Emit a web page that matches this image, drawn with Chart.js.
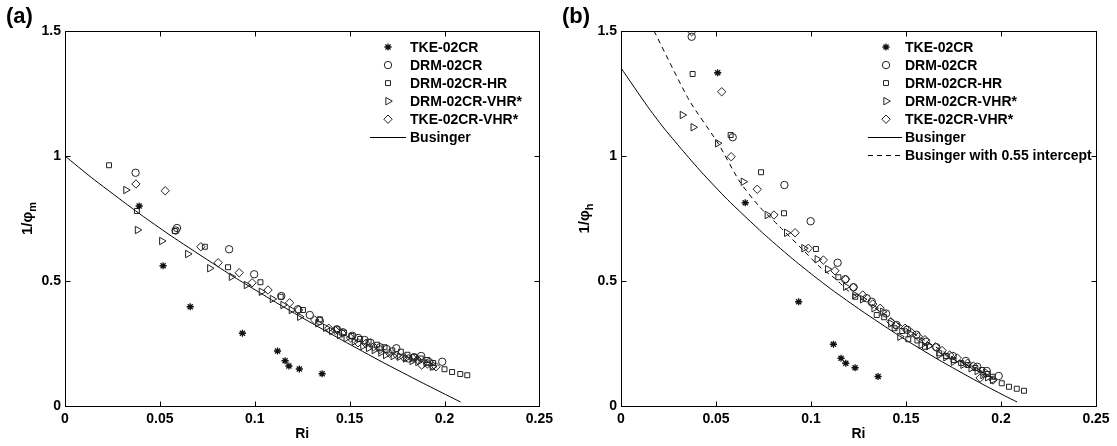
<!DOCTYPE html>
<html>
<head>
<meta charset="utf-8">
<script src="https://cdn.jsdelivr.net/npm/chart.js@4.4.1/dist/chart.umd.min.js"></script>
<style>
  html, body { margin: 0; padding: 0; background: #fff; }
  #wrap { position: relative; width: 1117px; height: 446px; overflow: hidden; }
  canvas { position: absolute; top: 0; }
  .tag { position: absolute; top: 3px; font: bold 22px "Liberation Sans", Arial, sans-serif; color: #000; }
</style>
</head>
<body>
<div id="wrap">
  <canvas id="chartA" width="558" height="446" style="left:0"></canvas>
  <canvas id="chartB" width="560" height="446" style="left:557px"></canvas>
  <div class="tag" style="left:6px">(a)</div>
  <div class="tag" style="left:562px">(b)</div>
</div>
<script>
  // axes
  const xTicks = [0, 0.05, 0.1, 0.15, 0.2, 0.25];
  const yTicks = [0, 0.5, 1, 1.5];
  const seriesNames = ['TKE-02CR', 'DRM-02CR', 'DRM-02CR-HR', 'DRM-02CR-VHR*', 'TKE-02CR-VHR*'];

  // ---- panel (a) : 1/phi_m ----
  const tkeRiA = [0.0391, 0.0517, 0.066, 0.0935, 0.112, 0.116, 0.118, 0.1235, 0.1355];
  const tkeValA = [0.80, 0.561, 0.397, 0.291, 0.22, 0.181, 0.16, 0.148, 0.129];

  const drmRiA = [0.0372, 0.0583, 0.059, 0.0865, 0.0997, 0.114, 0.1228, 0.129, 0.1343, 0.1433, 0.1465, 0.1514, 0.1545, 0.1579, 0.161, 0.166, 0.1695, 0.1746, 0.181, 0.184, 0.1877, 0.192, 0.1988];
  const drmValA = [0.933, 0.702, 0.712, 0.627, 0.527, 0.44, 0.387, 0.364, 0.34, 0.307, 0.295, 0.281, 0.272, 0.264, 0.253, 0.235, 0.228, 0.231, 0.19, 0.195, 0.2, 0.175, 0.177];

  const hrRiA = [0.0232, 0.0379, 0.0579, 0.0737, 0.0859, 0.103, 0.1137, 0.1254, 0.1343, 0.1433, 0.147, 0.151, 0.1555, 0.160, 0.1645, 0.1684, 0.1725, 0.177, 0.1805, 0.184, 0.1875, 0.191, 0.194, 0.2, 0.204, 0.2083, 0.212];
  const hrValA = [0.963, 0.78, 0.70, 0.637, 0.555, 0.495, 0.437, 0.384, 0.347, 0.307, 0.293, 0.28, 0.268, 0.257, 0.245, 0.235, 0.222, 0.217, 0.205, 0.197, 0.19, 0.184, 0.172, 0.147, 0.136, 0.128, 0.123];

  const vhrRiA = [0.0321, 0.0382, 0.051, 0.0647, 0.0763, 0.0877, 0.0956, 0.1035, 0.1093, 0.1149, 0.1193, 0.1237, 0.1333, 0.1374, 0.1405, 0.1447, 0.1482, 0.1525, 0.157, 0.16, 0.163, 0.1665, 0.169, 0.173, 0.1763, 0.1795, 0.183, 0.186, 0.1904, 0.1936];
  const vhrValA = [0.864, 0.704, 0.66, 0.608, 0.551, 0.517, 0.484, 0.457, 0.428, 0.404, 0.384, 0.357, 0.331, 0.313, 0.30, 0.284, 0.271, 0.258, 0.24, 0.232, 0.224, 0.214, 0.204, 0.2, 0.197, 0.19, 0.18, 0.176, 0.171, 0.157];

  const tkeVhrRiA = [0.0374, 0.0528, 0.0716, 0.0807, 0.0918, 0.0986, 0.107, 0.1184, 0.1231, 0.1316, 0.139, 0.1425, 0.146, 0.1505, 0.1544, 0.1585, 0.1626, 0.166, 0.171, 0.175, 0.1785, 0.1833, 0.1858, 0.188, 0.191, 0.1939, 0.1955];
  const tkeVhrValA = [0.888, 0.861, 0.637, 0.573, 0.533, 0.493, 0.464, 0.413, 0.384, 0.344, 0.311, 0.302, 0.291, 0.272, 0.253, 0.25, 0.237, 0.226, 0.211, 0.203, 0.195, 0.191, 0.185, 0.164, 0.168, 0.16, 0.157];

  const busRiA = [0, 0.0139, 0.032, 0.0424, 0.056, 0.0746, 0.0893, 0.1012, 0.111, 0.1264, 0.1464, 0.1674, 0.1875, 0.2019, 0.2085];
  const busValA = [1, 0.914, 0.81, 0.752, 0.68, 0.587, 0.515, 0.46, 0.415, 0.347, 0.262, 0.175, 0.096, 0.041, 0.016];

  // ---- panel (b) : 1/phi_h ----
  const tkeRiB = [0.0509, 0.0654, 0.0935, 0.1118, 0.1158, 0.1183, 0.1232, 0.1353];
  const tkeValB = [1.333, 0.813, 0.417, 0.247, 0.191, 0.171, 0.153, 0.118];

  const drmRiB = [0.0372, 0.0588, 0.086, 0.0998, 0.114, 0.118, 0.1224, 0.1293, 0.132, 0.1395, 0.145, 0.1506, 0.1555, 0.1605, 0.166, 0.1746, 0.1815, 0.1875, 0.1925, 0.1988];
  const drmValB = [1.477, 1.075, 0.884, 0.739, 0.573, 0.507, 0.475, 0.431, 0.417, 0.37, 0.324, 0.305, 0.285, 0.257, 0.235, 0.2, 0.18, 0.157, 0.14, 0.12];

  const hrRiB = [0.0377, 0.0577, 0.0737, 0.0858, 0.1026, 0.1144, 0.1233, 0.1346, 0.1385, 0.144, 0.148, 0.1512, 0.156, 0.16, 0.1675, 0.171, 0.175, 0.179, 0.1825, 0.1865, 0.19, 0.193, 0.1956, 0.2004, 0.2042, 0.2083, 0.2121];
  const hrValB = [1.328, 1.084, 0.935, 0.771, 0.628, 0.515, 0.437, 0.364, 0.355, 0.311, 0.30, 0.267, 0.262, 0.237, 0.211, 0.2, 0.184, 0.172, 0.164, 0.152, 0.144, 0.128, 0.117, 0.091, 0.077, 0.069, 0.061];

  const vhrRiB = [0.0323, 0.038, 0.0509, 0.0644, 0.077, 0.0872, 0.0963, 0.1033, 0.1088, 0.1183, 0.1232, 0.1272, 0.1332, 0.1378, 0.142, 0.1468, 0.152, 0.158, 0.162, 0.1675, 0.171, 0.175, 0.18, 0.1843, 0.1875, 0.1905, 0.193, 0.1956];
  const vhrValB = [1.164, 1.115, 1.051, 0.897, 0.764, 0.693, 0.631, 0.587, 0.547, 0.477, 0.444, 0.427, 0.391, 0.377, 0.33, 0.277, 0.29, 0.244, 0.24, 0.204, 0.195, 0.177, 0.165, 0.151, 0.14, 0.124, 0.115, 0.104];

  const tkeVhrRiB = [0.0372, 0.053, 0.058, 0.0717, 0.0805, 0.0916, 0.0986, 0.1065, 0.1126, 0.1183, 0.1223, 0.1272, 0.1325, 0.1364, 0.142, 0.1445, 0.1495, 0.153, 0.1565, 0.16, 0.1655, 0.169, 0.173, 0.177, 0.1824, 0.1855, 0.189, 0.192, 0.1958];
  const tkeVhrValB = [1.497, 1.257, 0.997, 0.867, 0.764, 0.693, 0.631, 0.584, 0.541, 0.507, 0.475, 0.444, 0.408, 0.391, 0.337, 0.322, 0.311, 0.293, 0.277, 0.265, 0.237, 0.222, 0.204, 0.192, 0.171, 0.16, 0.112, 0.13, 0.104];

  const busRiB = [0, 0.0139, 0.0221, 0.032, 0.0424, 0.056, 0.0746, 0.0893, 0.1012, 0.111, 0.1264, 0.1464, 0.1674, 0.1875, 0.2019, 0.2085];
  const busValB = [1.352, 1.199, 1.116, 1.026, 0.935, 0.826, 0.692, 0.595, 0.522, 0.465, 0.382, 0.281, 0.184, 0.0986, 0.041, 0.016];

  const bus55Ri = [0.0174, 0.0358, 0.051, 0.0626, 0.073, 0.0837, 0.0958, 0.1047, 0.1137, 0.119, 0.13, 0.14, 0.15, 0.16, 0.17, 0.18, 0.19, 0.196];
  const bus55Val = [1.5, 1.224, 1.052, 0.896, 0.796, 0.716, 0.624, 0.556, 0.504, 0.464, 0.41, 0.36, 0.31, 0.262, 0.216, 0.172, 0.13, 0.108];

  const FONT = '"Liberation Sans", Arial, Helvetica, sans-serif';
  Chart.defaults.font.family = FONT;
  Chart.defaults.color = '#000';

  const pts = (xs, ys) => xs.map((x, i) => ({ x: x, y: ys[i] }));
  const fmt = v => String(+(+v).toFixed(2));

  const markerStyles = [
    { pointStyle: 'star', radius: 3.6, rotation: 0, color: '#111', width: 1.3 },
    { pointStyle: 'circle', radius: 3.7, rotation: 0, color: '#222', width: 1 },
    { pointStyle: 'rect', radius: 3.5, rotation: 0, color: '#222', width: 1 },
    { pointStyle: 'triangle', radius: 4.3, rotation: 90, color: '#222', width: 1 },
    { pointStyle: 'rectRot', radius: 4.2, rotation: 0, color: '#222', width: 1 }
  ];

  function markerSet(name, i, data) {
    const m = markerStyles[i];
    return {
      label: name, data: data, showLine: false,
      pointStyle: m.pointStyle, pointRadius: m.radius, pointRotation: m.rotation,
      pointBorderColor: m.color, pointBackgroundColor: 'rgba(0,0,0,0)', pointBorderWidth: m.width,
      pointHoverRadius: m.radius, borderColor: m.color, backgroundColor: 'rgba(0,0,0,0)'
    };
  }

  function lineSet(name, data, dash) {
    return {
      label: name, data: data, showLine: true, pointRadius: 0, pointHoverRadius: 0,
      borderColor: '#000', borderWidth: 1, borderDash: dash, tension: 0.2, fill: false
    };
  }

  // frame + inward ticks, like the original plot box
  const framePlugin = {
    id: 'frame',
    afterDatasetsDraw(chart) {
      const a = chart.chartArea, ctx = chart.ctx;
      const xs = chart.scales.x, ys = chart.scales.y;
      const L = Math.round(a.left) + 0.5, R = Math.round(a.right) + 0.5;
      const T = Math.round(a.top) + 0.5, B = Math.round(a.bottom) + 0.5;
      ctx.save();
      ctx.strokeStyle = '#000';
      ctx.lineWidth = 1;
      ctx.strokeRect(L, T, R - L, B - T);
      ctx.beginPath();
      xTicks.forEach(v => {
        const p = Math.round(xs.getPixelForValue(v)) + 0.5;
        ctx.moveTo(p, B); ctx.lineTo(p, B - 5);
        ctx.moveTo(p, T); ctx.lineTo(p, T + 5);
      });
      yTicks.forEach(v => {
        const p = Math.round(ys.getPixelForValue(v)) + 0.5;
        ctx.moveTo(L, p); ctx.lineTo(L + 5, p);
        ctx.moveTo(R, p); ctx.lineTo(R - 5, p);
      });
      ctx.stroke();
      ctx.restore();
    }
  };

  // legend box drawn inside the plot
  const boxLegendPlugin = {
    id: 'boxLegend',
    afterDraw(chart, args, opts) {
      const ctx = chart.ctx;
      ctx.save();
      ctx.font = 'bold 14px ' + FONT;
      ctx.fillStyle = '#000';
      ctx.textBaseline = 'middle';
      ctx.textAlign = 'left';
      chart.data.datasets.forEach((ds, i) => {
        const y = opts.top + i * opts.gap;
        if (ds.showLine) {
          ctx.save();
          ctx.strokeStyle = '#000';
          ctx.lineWidth = 1;
          ctx.setLineDash(ds.borderDash || []);
          ctx.beginPath();
          ctx.moveTo(opts.lineX0, Math.round(y) + 0.5);
          ctx.lineTo(opts.lineX1, Math.round(y) + 0.5);
          ctx.stroke();
          ctx.restore();
        } else {
          ctx.save();
          ctx.strokeStyle = ds.pointBorderColor;
          ctx.fillStyle = 'rgba(0,0,0,0)';
          ctx.lineWidth = ds.pointBorderWidth;
          Chart.helpers.drawPoint(ctx, {
            pointStyle: ds.pointStyle, radius: ds.pointRadius,
            rotation: ds.pointRotation, borderWidth: ds.pointBorderWidth
          }, opts.markX, y);
          ctx.restore();
        }
        ctx.fillText(ds.label, opts.textX, y + 1);
      });
      ctx.restore();
    }
  };

  // rotated y title with subscript
  const yTitlePlugin = {
    id: 'yTitle',
    afterDraw(chart, args, opts) {
      const ctx = chart.ctx, a = chart.chartArea;
      ctx.save();
      const main = 'bold 15px ' + FONT, sub = 'bold 11px ' + FONT;
      ctx.font = main;
      const w1 = ctx.measureText('1/\u03c6').width;
      ctx.font = sub;
      const w2 = ctx.measureText(opts.sub).width;
      ctx.translate(opts.x, (a.top + a.bottom) / 2);
      ctx.rotate(-Math.PI / 2);
      ctx.fillStyle = '#000';
      ctx.textBaseline = 'alphabetic';
      ctx.textAlign = 'left';
      const x0 = -(w1 + w2) / 2;
      ctx.font = main;
      ctx.fillText('1/\u03c6', x0, 5);
      ctx.font = sub;
      ctx.fillText(opts.sub, x0 + w1, 9);
      ctx.restore();
    }
  };

  function makeChart(id, datasets, yWidth, padRight, sub, legend) {
    const tickFont = { size: 14, weight: 'bold' };
    return new Chart(document.getElementById(id), {
      type: 'scatter',
      data: { datasets: datasets },
      options: {
        responsive: false, animation: false, devicePixelRatio: 1,
        layout: { padding: { top: 31, right: padRight, bottom: 0, left: 0 } },
        plugins: {
          legend: { display: false }, tooltip: { enabled: false },
          boxLegend: legend, yTitle: { x: 27, sub: sub }
        },
        scales: {
          x: {
            type: 'linear', min: 0, max: 0.25,
            afterBuildTicks: s => { s.ticks = xTicks.map(v => ({ value: v })); },
            afterFit: s => { s.height = 40; },
            grid: { display: false, drawTicks: false }, border: { display: false },
            ticks: { padding: 5, color: '#000', font: tickFont, maxRotation: 0, autoSkip: false, callback: fmt },
            title: { display: true, text: 'Ri', color: '#000', font: tickFont, padding: { top: 0, bottom: 3 } }
          },
          y: {
            type: 'linear', min: 0, max: 1.5,
            afterBuildTicks: s => { s.ticks = yTicks.map(v => ({ value: v })); },
            afterFit: s => { s.width = yWidth; },
            grid: { display: false, drawTicks: false }, border: { display: false },
            ticks: { padding: 4, color: '#000', font: tickFont, autoSkip: false, callback: fmt }
          }
        }
      },
      plugins: [framePlugin, boxLegendPlugin, yTitlePlugin]
    });
  }

  const datasetsA = [
    markerSet(seriesNames[0], 0, pts(tkeRiA, tkeValA)),
    markerSet(seriesNames[1], 1, pts(drmRiA, drmValA)),
    markerSet(seriesNames[2], 2, pts(hrRiA, hrValA)),
    markerSet(seriesNames[3], 3, pts(vhrRiA, vhrValA)),
    markerSet(seriesNames[4], 4, pts(tkeVhrRiA, tkeVhrValA)),
    lineSet('Businger', pts(busRiA, busValA), [])
  ];
  const datasetsB = [
    markerSet(seriesNames[0], 0, pts(tkeRiB, tkeValB)),
    markerSet(seriesNames[1], 1, pts(drmRiB, drmValB)),
    markerSet(seriesNames[2], 2, pts(hrRiB, hrValB)),
    markerSet(seriesNames[3], 3, pts(vhrRiB, vhrValB)),
    markerSet(seriesNames[4], 4, pts(tkeVhrRiB, tkeVhrValB)),
    lineSet('Businger', pts(busRiB, busValB), []),
    lineSet('Businger with 0.55 intercept', pts(bus55Ri, bus55Val), [5, 4])
  ];

  makeChart('chartA', datasetsA, 65, 18, 'm',
    { top: 47, gap: 18.05, markX: 388, textX: 410, lineX0: 370, lineX1: 406 });
  makeChart('chartB', datasetsB, 64, 21, 'h',
    { top: 47, gap: 18.05, markX: 329, textX: 348, lineX0: 311, lineX1: 345 });
</script>
</body>
</html>
